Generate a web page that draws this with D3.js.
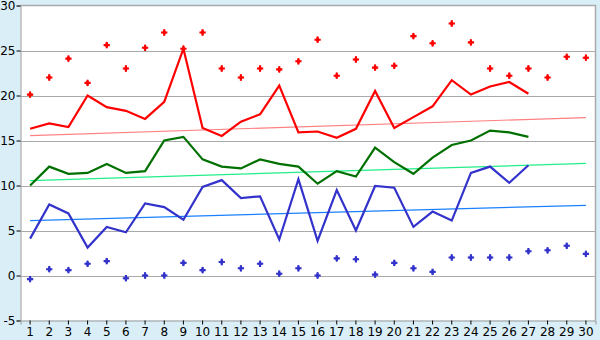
<!DOCTYPE html>
<html>
<head>
<meta charset="utf-8">
<script src="https://cdn.jsdelivr.net/npm/d3@7"></script>
<style>
  html, body { margin: 0; padding: 0; background: #d9eef6; }
  svg { display: block; }
  text { font-family: "DejaVu Sans", sans-serif; font-size: 12px; fill: #000; }
</style>
</head>
<body>
<svg id="chart" width="600" height="340"></svg>
<script>
// Days of the month
const days = d3.range(1, 31);

// Daily mean of maximum temperatures (days 1–27)
const maxAvg = [16.3, 16.9, 16.5, 20.0, 18.7, 18.3, 17.4, 19.3, 25.2, 16.4,
                15.5, 17.1, 17.9, 21.1, 15.9, 16.0, 15.3, 16.3, 20.5, 16.4,
                17.6, 18.8, 21.7, 20.1, 21.0, 21.5, 20.2];
// Daily mean temperature (days 1–27)
const meanTemp = [10.0, 12.1, 11.3, 11.4, 12.4, 11.4, 11.6, 15.0, 15.4, 12.9,
                  12.1, 11.9, 12.9, 12.4, 12.1, 10.2, 11.6, 11.0, 14.2, 12.6,
                  11.3, 13.1, 14.5, 15.0, 16.1, 15.9, 15.4];
// Daily mean of minimum temperatures (days 1–27)
const minAvg = [4.1, 7.9, 6.9, 3.1, 5.4, 4.8, 8.0, 7.6, 6.2, 9.85,
                10.6, 8.6, 8.8, 4.0, 10.7, 3.85, 9.5, 5.0, 9.95, 9.75,
                5.4, 7.1, 6.1, 11.4, 12.1, 10.3, 12.25];
// Record highs per day (days 1–30)
const recordHigh = [20.1, 22.0, 24.1, 21.4, 25.6, 23.0, 25.3, 27.0, 25.2, 27.0,
                    23.0, 22.0, 23.0, 22.9, 23.8, 26.2, 22.2, 24.0, 23.1, 23.3,
                    26.6, 25.8, 28.0, 25.9, 23.0, 22.2, 23.0, 22.0, 24.3, 24.2];
// Record lows per day (days 1–30)
const recordLow = [-0.4, 0.7, 0.6, 1.3, 1.6, -0.3, 0.0, 0.0, 1.4, 0.6,
                   1.5, 0.8, 1.3, 0.2, 0.8, 0.0, 1.9, 1.8, 0.1, 1.4,
                   0.8, 0.4, 2.0, 2.0, 2.0, 2.0, 2.7, 2.8, 3.3, 2.4];
// Long-term normals at the first and last day of the month
const normalDays = [1, 30];
const normalMax = [15.55, 17.55];
const normalMean = [10.55, 12.45];
const normalMin = [6.1, 7.8];

// Axis ticks
const yTicks = [-5, 0, 5, 10, 15, 20, 25, 30];

const svg = d3.select("#chart");
const plotLeft = 20.5, plotRight = 595.5, plotTop = 5.5, plotBottom = 320.5;

const x = d3.scaleBand().domain(days).range([plotLeft, plotRight]);
const xc = d => x(d) + x.bandwidth() / 2;
const y = d3.scaleLinear().domain([-5, 30]).range([plotBottom, plotTop]);

// Plot background
svg.append("rect")
  .attr("x", plotLeft).attr("y", plotTop)
  .attr("width", plotRight - plotLeft).attr("height", plotBottom - plotTop)
  .attr("fill", "#fff");

// Horizontal grid lines
svg.append("g")
  .selectAll("line")
  .data(yTicks.filter(v => v > -5 && v < 30))
  .join("line")
  .attr("x1", plotLeft).attr("x2", plotRight)
  .attr("y1", d => Math.round(y(d)) + 0.5).attr("y2", d => Math.round(y(d)) + 0.5)
  .attr("stroke", "#aaaaaa").attr("stroke-width", 1);

// Frame: top and right edges
svg.append("path")
  .attr("d", `M${plotLeft},${plotTop}H${plotRight}V${plotBottom}`)
  .attr("fill", "none").attr("stroke", "#aaaaaa").attr("stroke-width", 1.5);

// Y axis
const yAxis = d3.axisLeft(y).tickValues(yTicks).tickSize(4).tickPadding(1)
  .tickFormat(d => String(d));
const gy = svg.append("g").attr("transform", `translate(${plotLeft},0)`).call(yAxis);
gy.select(".domain").attr("stroke", "#999999");
gy.selectAll(".tick line").attr("stroke", "#000");
gy.selectAll("text").style("font-family", "DejaVu Sans, sans-serif").style("font-size", "12px");

// X axis
const xAxis = d3.axisBottom(x).tickSize(4).tickPadding(3);
const gx = svg.append("g").attr("transform", `translate(0,${plotBottom})`).call(xAxis);
gx.select(".domain").attr("stroke", "#999999");
gx.selectAll(".tick line").attr("stroke", "#000");
gx.selectAll("text").style("font-family", "DejaVu Sans, sans-serif").style("font-size", "12px");

// Normal (trend) lines
const normals = [
  { v: normalMax, c: "#ff8080" },
  { v: normalMean, c: "#22ee88" },
  { v: normalMin, c: "#1a80ff" }
];
normals.forEach(n => {
  svg.append("path")
    .datum(normalDays.map((d, i) => [d, n.v[i]]))
    .attr("d", d3.line().x(d => xc(d[0])).y(d => y(d[1])))
    .attr("fill", "none").attr("stroke", n.c).attr("stroke-width", 1.2);
});

// Daily series lines
const series = [
  { v: maxAvg, c: "#ff0000" },
  { v: meanTemp, c: "#007000" },
  { v: minAvg, c: "#3333cc" }
];
series.forEach(s => {
  svg.append("path")
    .datum(s.v.map((v, i) => [days[i], v]))
    .attr("d", d3.line().x(d => xc(d[0])).y(d => y(d[1])))
    .attr("fill", "none").attr("stroke", s.c)
    .attr("stroke-width", 2.2).attr("stroke-linejoin", "miter");
});

// Record markers: a small plus over a diamond
const cross = d3.symbol().type(d3.symbolCross).size(22);
const diamond = d3.symbol().type(d3.symbolDiamond).size(14);
[{ v: recordHigh, c: "#ff0000" }, { v: recordLow, c: "#3333cc" }].forEach(r => {
  const g = svg.append("g")
    .selectAll("g")
    .data(r.v.map((v, i) => [days[i], v]))
    .join("g")
    .attr("transform", d => `translate(${xc(d[0])},${y(d[1])})`);
  g.append("path").attr("d", cross).attr("fill", r.c);
  g.append("path").attr("d", diamond).attr("fill", r.c);
});
</script>
</body>
</html>
